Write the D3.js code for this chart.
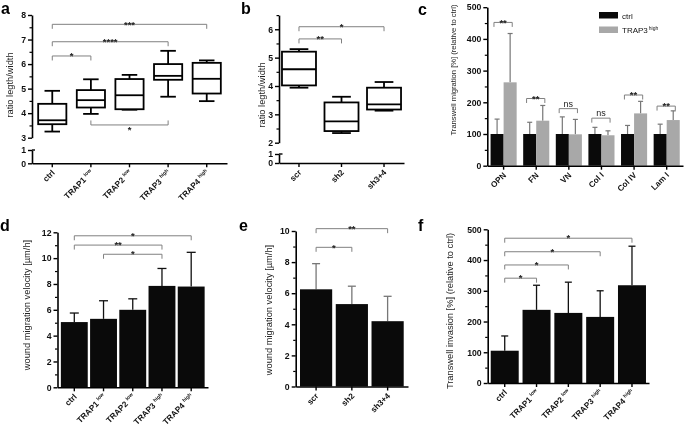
<!DOCTYPE html>
<html><head><meta charset="utf-8">
<script src="https://cdn.jsdelivr.net/npm/d3@7"></script>
<style>body{margin:0;background:#fff} #chart{filter:grayscale(1)}</style>
</head><body>
<svg id="chart" width="685" height="433"></svg>
<script>
// ---------- DATA ----------
// panel a (box plots)
const catsA = ["ctrl","TRAP1","TRAP2","TRAP3","TRAP4"];
const supA  = ["","low","low","high","high"];
const minA = [3.25,3.97,4.14,4.67,4.49];
const q1A  = [3.55,4.23,4.16,5.36,4.80];
const medA = [3.71,4.53,4.73,5.52,5.40];
const q3A  = [4.38,4.94,5.39,6.00,6.05];
const maxA = [4.91,5.38,5.56,6.54,6.15];
const ticksAUpper = [3,4,5,6,7,8];
const ticksALower = [0,1];
const sigA = [
  {from:"ctrl",to:"TRAP4",y:7.62,label:"***",down:false},
  {from:"ctrl",to:"TRAP3",y:6.91,label:"****",down:false},
  {from:"ctrl",to:"TRAP1",y:6.33,label:"*",down:false},
  {from:"TRAP1",to:"TRAP3",y:3.52,label:"*",down:true}
];
// panel b (box plots)
const catsB = ["scr","sh2","sh3+4"];
const minB = [3.94,2.34,3.13];
const q1B  = [4.02,2.41,3.17];
const medB = [4.59,2.75,3.35];
const q3B  = [5.21,3.42,3.94];
const maxB = [5.30,3.62,4.14];
const ticksBUpper = [2,3,4,5,6];
const ticksBLower = [0,1];
const sigB = [
  {from:"scr",to:"sh3+4",y:6.09,label:"*"},
  {from:"scr",to:"sh2",y:5.66,label:"**"}
];
// panel c (grouped bars)
const groupsC = ["OPN","FN","VN","Col I","Col IV","Lam I"];
const seriesC = ["ctrl","TRAP3"];
const ctrlC    = [100,100,100,100,100,100];
const ctrlErrC = [47,37,54,21,27,31];
const trapC    = [263,142,99,96,165,144];
const trapErrC = [154,48,47,14,38,29];
const sigC     = ["**","**","ns","ns","**","**"];
const sigYC    = [452,212,180,150,223,188];
const ticksC = [0,100,200,300,400,500];
// panel d
const catsD = ["ctrl","TRAP1","TRAP2","TRAP3","TRAP4"];
const supD  = ["","low","low","high","high"];
const valD = [5.05,5.3,6.0,7.85,7.8];
const errD = [0.7,1.4,0.85,1.35,2.65];
const ticksD = [0,2,4,6,8,10,12];
const sigD = [
  {from:"ctrl",to:"TRAP4",y:11.73,label:"*"},
  {from:"ctrl",to:"TRAP3",y:11.01,label:"**"},
  {from:"TRAP1",to:"TRAP3",y:10.3,label:"*"}
];
// panel e
const catsE = ["scr","sh2","sh3+4"];
const valE = [6.25,5.3,4.2];
const errE = [1.65,1.15,1.6];
const ticksE = [0,2,4,6,8,10];
const sigE = [
  {from:"scr",to:"sh3+4",y:10.15,label:"**"},
  {from:"scr",to:"sh2",y:8.95,label:"*"}
];
// panel f
const catsF = ["ctrl","TRAP1","TRAP2","TRAP3","TRAP4"];
const supF  = ["","low","low","high","high"];
const valF = [105,238,228,215,318];
const errF = [48,80,100,85,127];
const ticksF = [0,100,200,300,400,500];
const sigF = [
  {from:"ctrl",to:"TRAP4",y:471,label:"*"},
  {from:"ctrl",to:"TRAP3",y:427,label:"*"},
  {from:"ctrl",to:"TRAP2",y:384,label:"*"},
  {from:"ctrl",to:"TRAP1",y:341,label:"*"}
];

// ---------- HELPERS ----------
const F = '"Liberation Sans", Arial, Helvetica, sans-serif';
const svg = d3.select("#chart");
svg.append("rect").attr("width",685).attr("height",433).attr("fill","#fff");

function styleAxis(g){
  g.selectAll("path.domain").attr("stroke","#000").attr("stroke-width",1.6);
  g.selectAll(".tick line").attr("stroke","#000").attr("stroke-width",1.4);
  g.selectAll(".tick text").attr("font-family",F).attr("font-size",8.7)
    .attr("font-weight","bold").attr("fill","#111");
}
function yAx(x, scale, major, minor){
  const g = svg.append("g").attr("transform",`translate(${x},0)`)
    .call(d3.axisLeft(scale).tickValues(major).tickSize(4).tickSizeOuter(0).tickPadding(2).tickFormat(d3.format("d")));
  styleAxis(g);
  if(minor){
    const m = svg.append("g").attr("transform",`translate(${x},0)`)
      .call(d3.axisLeft(scale).tickValues(minor).tickSize(2.5).tickFormat(""));
    m.select(".domain").remove();
    m.selectAll("line").attr("stroke","#000").attr("stroke-width",1.2);
  }
  return g;
}
function xAx(yPos, band, labels, sups){
  const g = svg.append("g").attr("transform",`translate(0,${yPos})`)
    .call(d3.axisBottom(band).tickSize(4).tickSizeOuter(0).tickFormat(""));
  styleAxis(g);
  band.domain().forEach((c,i)=>{
    const cx = band(c)+band.bandwidth()/2;
    const t = svg.append("text")
      .attr("transform",`translate(${cx+3},${yPos+10}) rotate(-45)`)
      .attr("text-anchor","end").attr("font-family",F).attr("font-size",8.2)
      .attr("font-weight","bold").attr("fill","#111");
    t.append("tspan").text(labels[i]);
    if(sups && sups[i]){
      t.append("tspan").attr("font-size",5).attr("dx",2).attr("dy",-3.5).text(sups[i]);
    }
  });
}
function yTitle(x,y,txt,fs){
  svg.append("text").attr("transform",`translate(${x},${y}) rotate(-90)`)
    .attr("text-anchor","middle").attr("dy","0.35em").attr("font-family",F)
    .attr("font-size",fs||9.3).attr("fill","#222").text(txt);
}
function letter(x,y,t){
  svg.append("text").attr("x",x).attr("y",y).attr("font-family",F)
    .attr("font-size",16).attr("font-weight","bold").attr("fill","#000").text(t);
}
function bracket(x1,x2,yy,label,down){
  const h = 4.5;
  const p = down ? `M${x1},${yy-h}V${yy}H${x2}V${yy-h}` : `M${x1},${yy+h}V${yy}H${x2}V${yy+h}`;
  svg.append("path").attr("d",p).attr("fill","none").attr("stroke","#808080").attr("stroke-width",1);
  const isNs = label==="ns";
  svg.append("text").attr("x",(x1+x2)/2)
    .attr("y", down ? yy+8 : (isNs ? yy-2 : yy+3.2))
    .attr("text-anchor","middle").attr("font-family",F)
    .attr("font-size", isNs?9:9.5).attr("font-weight", isNs?"normal":"bold")
    .attr("fill","#222").text(label);
}
function range(a,b,s){const r=[];for(let v=a;v<=b+1e-9;v+=s)r.push(+v.toFixed(4));return r;}
function boxes(band, yScale, mins,q1s,meds,q3s,maxs){
  band.domain().forEach((c,i)=>{
    const bw = band.bandwidth(), x0 = band(c), cx = x0+bw/2, cw = bw*0.55;
    const g = svg.append("g").attr("stroke","#000").attr("stroke-width",1.8).attr("fill","none");
    g.append("line").attr("x1",cx).attr("x2",cx).attr("y1",yScale(maxs[i])).attr("y2",yScale(q3s[i]));
    g.append("line").attr("x1",cx).attr("x2",cx).attr("y1",yScale(q1s[i])).attr("y2",yScale(mins[i]));
    g.append("line").attr("x1",cx-cw/2).attr("x2",cx+cw/2).attr("y1",yScale(maxs[i])).attr("y2",yScale(maxs[i]));
    g.append("line").attr("x1",cx-cw/2).attr("x2",cx+cw/2).attr("y1",yScale(mins[i])).attr("y2",yScale(mins[i]));
    g.append("rect").attr("x",x0).attr("width",bw).attr("y",yScale(q3s[i]))
      .attr("height",yScale(q1s[i])-yScale(q3s[i])).attr("fill","#fff");
    g.append("line").attr("x1",x0).attr("x2",x0+bw).attr("y1",yScale(meds[i])).attr("y2",yScale(meds[i]));
  });
}
function bars(band, yScale, vals, errs, errColor, capW){
  band.domain().forEach((c,i)=>{
    const bw = band.bandwidth(), x0 = band(c), cx = x0+bw/2;
    svg.append("line").attr("x1",cx).attr("x2",cx).attr("y1",yScale(vals[i])).attr("y2",yScale(vals[i]+errs[i]))
      .attr("stroke",errColor).attr("stroke-width",1.3);
    svg.append("line").attr("x1",cx-capW/2).attr("x2",cx+capW/2).attr("y1",yScale(vals[i]+errs[i])).attr("y2",yScale(vals[i]+errs[i]))
      .attr("stroke",errColor).attr("stroke-width",1.3);
    svg.append("rect").attr("x",x0).attr("width",bw).attr("y",yScale(vals[i]))
      .attr("height",yScale(0)-yScale(vals[i])).attr("fill","#0a0a0a");
  });
}
function cxOf(band,c){return band(c)+band.bandwidth()/2;}

// ---------- PANEL A ----------
{
  const ax = 32;
  const yU = d3.scaleLinear().domain([3,8]).range([137.7,15]);
  const yL = d3.scaleLinear().domain([0,1]).range([163.3,150]);
  const x = d3.scaleBand().domain(catsA).range([ax,227]).paddingInner(0.27).paddingOuter(0.16);
  yAx(ax,yU,ticksAUpper,range(3.5,7.5,1));
  yAx(ax,yL,ticksALower,null);
  svg.append("line").attr("x1",ax).attr("x2",ax+3).attr("y1",yL(1)).attr("y2",yL(1)).attr("stroke","#000").attr("stroke-width",1.4);
  xAx(yL(0),x,catsA,supA);
  sigA.forEach(s=>{ if(!s.down) bracket(cxOf(x,s.from),cxOf(x,s.to),yU(s.y),s.label,false); });
  boxes(x,yU,minA,q1A,medA,q3A,maxA);
  sigA.forEach(s=>{ if(s.down) bracket(cxOf(x,s.from),cxOf(x,s.to),yU(s.y),s.label,true); });
  yTitle(10,85,"ratio legth/width");
  letter(1,14,"a");
}
// ---------- PANEL B ----------
{
  const ax = 279;
  const yU = d3.scaleLinear().domain([2,6.5]).range([142.7,15.1]);
  const yL = d3.scaleLinear().domain([0,1]).range([163,154]);
  const x = d3.scaleBand().domain(catsB).range([ax,404]).paddingInner(0.2).paddingOuter(0.07);
  yAx(ax,yU,ticksBUpper,range(2.5,6.5,1));
  yAx(ax,yL,ticksBLower,null);
  svg.append("line").attr("x1",ax).attr("x2",ax+3.5).attr("y1",yL(1)).attr("y2",yL(1)).attr("stroke","#000").attr("stroke-width",1.4);
  xAx(yL(0),x,catsB,null);
  sigB.forEach(s=>bracket(cxOf(x,s.from),cxOf(x,s.to),yU(s.y),s.label,false));
  boxes(x,yU,minB,q1B,medB,q3B,maxB);
  yTitle(262,95,"ratio legth/width");
  letter(241,14,"b");
}
// ---------- PANEL C ----------
{
  const ax = 487.3;
  const y = d3.scaleLinear().domain([0,500]).range([165.7,7.2]);
  const x0 = d3.scaleBand().domain(groupsC).range([ax,683]).paddingInner(0.2).paddingOuter(0.1);
  const x1 = d3.scaleBand().domain(seriesC).range([0,x0.bandwidth()]);
  const col = d3.scaleOrdinal().domain(seriesC).range(["#0a0a0a","#a8a8a8"]);
  const vals = {ctrl:ctrlC, TRAP3:trapC}, errs = {ctrl:ctrlErrC, TRAP3:trapErrC};
  groupsC.forEach((gname,i)=>{
    seriesC.forEach(s=>{
      const bx = x0(gname)+x1(s), bw = x1.bandwidth(), cx = bx+bw/2;
      const v = vals[s][i], e = errs[s][i];
      svg.append("line").attr("x1",cx).attr("x2",cx).attr("y1",y(v)).attr("y2",y(v+e)).attr("stroke","#777").attr("stroke-width",1.2);
      svg.append("line").attr("x1",cx-2.5).attr("x2",cx+2.5).attr("y1",y(v+e)).attr("y2",y(v+e)).attr("stroke","#777").attr("stroke-width",1.2);
      svg.append("rect").attr("x",bx).attr("width",bw).attr("y",y(v)).attr("height",y(0)-y(v)).attr("fill",col(s));
    });
    const gx = x0(gname), bw = x0.bandwidth();
    bracket(gx+bw*0.13, gx+bw*0.83, y(sigYC[i]), sigC[i], false);
  });
  yAx(ax,y,ticksC,range(50,450,100));
  xAx(y(0),x0,groupsC,null);
  // legend
  const lg = svg.append("g");
  seriesC.forEach((s,i)=>{
    lg.append("rect").attr("x",599).attr("y",12+i*14.5).attr("width",19).attr("height",6.5).attr("fill",col(s));
    const t = lg.append("text").attr("x",622).attr("y",18.5+i*14.5).attr("font-family",F).attr("font-size",8)
      .attr("fill","#111");
    t.append("tspan").text(s);
    if(s==="TRAP3") t.append("tspan").attr("font-size",5).attr("dx",1).attr("dy",-3.5).text("high");
  });
  yTitle(453,70,"Transwell migration [%] (relative to ctrl)",7.6);
  letter(418,15,"c");
}
// ---------- PANEL D ----------
{
  const ax = 57.5;
  const y = d3.scaleLinear().domain([0,12]).range([387.3,232.3]);
  const x = d3.scaleBand().domain(catsD).range([ax,208]).paddingInner(0.08).paddingOuter(0.115);
  sigD.forEach(s=>bracket(cxOf(x,s.from),cxOf(x,s.to),y(s.y),s.label,false));
  bars(x,y,valD,errD,"#111",9);
  yAx(ax,y,ticksD,range(1,11,2));
  xAx(y(0),x,catsD,supD);
  yTitle(27,305,"wound migration velocity [\u00b5m/h]");
  letter(0,231,"d");
}
// ---------- PANEL E ----------
{
  const ax = 295.7;
  const y = d3.scaleLinear().domain([0,10]).range([386.5,231]);
  const x = d3.scaleBand().domain(catsE).range([ax,408]).paddingInner(0.1).paddingOuter(0.12);
  sigE.forEach(s=>bracket(cxOf(x,s.from),cxOf(x,s.to),y(s.y),s.label,false));
  bars(x,y,valE,errE,"#777",8);
  yAx(ax,y,ticksE,range(1,9,2));
  xAx(y(0),x,catsE,null);
  yTitle(268.5,310,"wound migration velocity [\u00b5m/h]");
  letter(239,231,"e");
}
// ---------- PANEL F ----------
{
  const ax = 487.7;
  const y = d3.scaleLinear().domain([0,500]).range([383,229.3]);
  const x = d3.scaleBand().domain(catsF).range([ax,649]).paddingInner(0.12).paddingOuter(0.095);
  sigF.forEach(s=>bracket(cxOf(x,s.from),cxOf(x,s.to),y(s.y),s.label,false));
  bars(x,y,valF,errF,"#111",7);
  yAx(ax,y,ticksF,range(50,450,100));
  xAx(y(0),x,catsF,supF);
  yTitle(449.5,311,"Transwell invasion [%] (relative to ctrl)");
  letter(418,231,"f");
}
</script>
</body></html>
